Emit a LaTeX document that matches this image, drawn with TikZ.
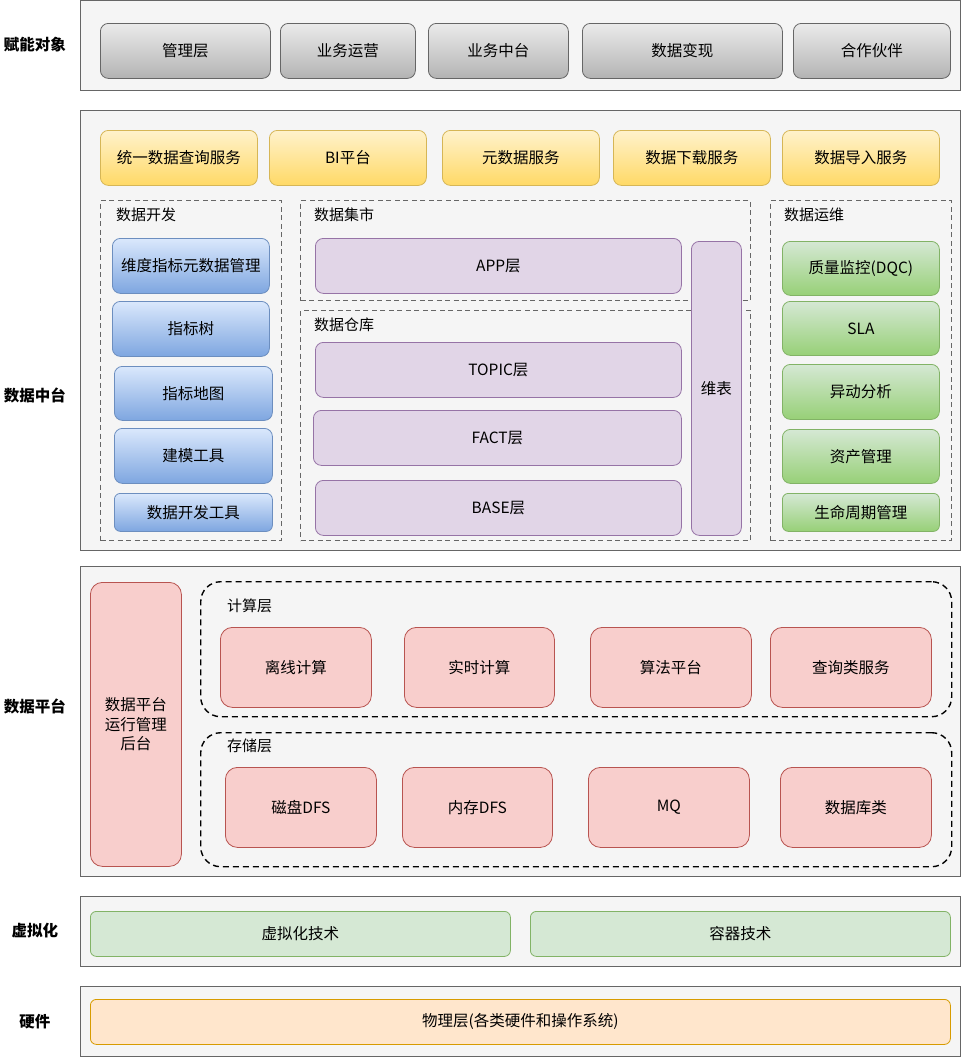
\documentclass[tikz,border=0pt]{standalone}
\usepackage{fontspec}
\setmainfont{Noto Sans CJK SC}
\definecolor{panelfill}{HTML}{F5F5F5}
\definecolor{panelline}{HTML}{666666}
\definecolor{grayTop}{HTML}{EBEBEB}
\definecolor{grayBot}{HTML}{B3B3B3}
\definecolor{yelTop}{HTML}{FFF2CC}
\definecolor{yelBot}{HTML}{FFD966}
\definecolor{yelLine}{HTML}{D6B656}
\definecolor{bluTop}{HTML}{DAE8FC}
\definecolor{bluBot}{HTML}{7EA6E0}
\definecolor{bluLine}{HTML}{6C8EBF}
\definecolor{grnTop}{HTML}{D5E8D4}
\definecolor{grnBot}{HTML}{97D077}
\definecolor{grnLine}{HTML}{82B366}
\definecolor{purFill}{HTML}{E1D5E7}
\definecolor{purLine}{HTML}{9673A6}
\definecolor{redFill}{HTML}{F8CECC}
\definecolor{redLine}{HTML}{B85450}
\definecolor{orgFill}{HTML}{FFE6CC}
\definecolor{orgLine}{HTML}{D79B00}
\begin{document}
\begin{tikzpicture}[x=1pt,y=-1pt,
  panel/.style={draw=panelline, fill=panelfill, line width=1pt, inner sep=0pt, anchor=north west},
  sidelabel/.style={font=\bfseries\fontsize{15.5}{18}\selectfont, inner sep=0pt},
  grouplabel/.style={font=\fontsize{15}{18}\selectfont, inner sep=0pt, anchor=west},
  boxbase/.style={rounded corners=8pt, inner sep=0pt, anchor=north west, line width=0.8pt, font=\fontsize{15.5}{18}\selectfont, align=center},
  graybox/.style={boxbase, draw=panelline, top color=grayTop, bottom color=grayBot},
  yelbox/.style={boxbase, draw=yelLine, top color=yelTop, bottom color=yelBot},
  blubox/.style={boxbase, draw=bluLine, top color=bluTop, bottom color=bluBot},
  grnbox/.style={boxbase, draw=grnLine, top color=grnTop, bottom color=grnBot},
  purbox/.style={boxbase, draw=purLine, fill=purFill},
  redbox/.style={boxbase, draw=redLine, fill=redFill, rounded corners=12pt},
  lgrnbox/.style={boxbase, draw=grnLine, fill=grnTop, rounded corners=6pt},
  orgbox/.style={boxbase, draw=orgLine, fill=orgFill, rounded corners=6pt},
  groupbox/.style={draw=panelline, line width=1.2pt, dash pattern=on 5pt off 3.5pt, inner sep=0pt, anchor=north west},
  layerbox/.style={draw=black, line width=1.4pt, dash pattern=on 6pt off 4pt, rounded corners=20pt, inner sep=0pt, anchor=north west}
]
\useasboundingbox (0,0) rectangle (962,1058);

% ---------- panel 1 ----------
\node[panel, minimum width=880, minimum height=90] (p1) at (80,0) {};
\node[sidelabel] (l1) at (35,45) {赋能对象};
\node[graybox, minimum width=170, minimum height=55] (g1) at (100,23) {管理层};
\node[graybox, minimum width=135, minimum height=55] (g2) at (280,23) {业务运营};
\node[graybox, minimum width=140, minimum height=55] (g3) at (428,23) {业务中台};
\node[graybox, minimum width=200, minimum height=55] (g4) at (582,23) {数据变现};
\node[graybox, minimum width=157, minimum height=55] (g5) at (793,23) {合作伙伴};

% ---------- panel 2 ----------
\node[panel, minimum width=880, minimum height=440] (p2) at (80,110) {};
\node[sidelabel] (l2) at (35,395) {数据中台};
\node[yelbox, minimum width=157, minimum height=55] (y1) at (100,130) {统一数据查询服务};
\node[yelbox, minimum width=157, minimum height=55] (y2) at (269,130) {BI平台};
\node[yelbox, minimum width=157, minimum height=55] (y3) at (442,130) {元数据服务};
\node[yelbox, minimum width=157, minimum height=55] (y4) at (613,130) {数据下载服务};
\node[yelbox, minimum width=157, minimum height=55] (y5) at (782,130) {数据导入服务};

\node[groupbox, minimum width=181, minimum height=340] (gdev) at (100,200) {};
\node[grouplabel] (tdev) at (116,215) {数据开发};
\node[groupbox, minimum width=450, minimum height=100] (gmart) at (300,200) {};
\node[grouplabel] (tmart) at (314,215) {数据集市};
\node[groupbox, minimum width=450, minimum height=230] (gwh) at (300,310) {};
\node[grouplabel] (twh) at (314,325) {数据仓库};
\node[groupbox, minimum width=181, minimum height=340] (gops) at (770,200) {};
\node[grouplabel] (tops) at (784,215) {数据运维};

\node[blubox, minimum width=157, minimum height=55] (b1) at (112,238) {维度指标元数据管理};
\node[blubox, minimum width=157, minimum height=55] (b2) at (112,301) {指标树};
\node[blubox, minimum width=158, minimum height=54] (b3) at (114,366) {指标地图};
\node[blubox, minimum width=158, minimum height=55] (b4) at (114,428) {建模工具};
\node[blubox, minimum width=158, minimum height=38, rounded corners=6pt] (b5) at (114,493) {数据开发工具};

\node[purbox, minimum width=366, minimum height=55] (a1) at (315,238) {APP层};
\node[purbox, minimum width=366, minimum height=55] (a2) at (315,342) {TOPIC层};
\node[purbox, minimum width=368, minimum height=55] (a3) at (313,410) {FACT层};
\node[purbox, minimum width=366, minimum height=55] (a4) at (315,480) {BASE层};
\node[purbox, minimum width=50, minimum height=294] (a5) at (691,241) {维表};

\node[grnbox, minimum width=157, minimum height=54] (n1) at (782,241) {质量监控(DQC)};
\node[grnbox, minimum width=157, minimum height=54] (n2) at (782,301) {SLA};
\node[grnbox, minimum width=157, minimum height=55] (n3) at (782,364) {异动分析};
\node[grnbox, minimum width=157, minimum height=54] (n4) at (782,429) {资产管理};
\node[grnbox, minimum width=157, minimum height=38, rounded corners=6pt] (n5) at (782,493) {生命周期管理};

% ---------- panel 3 ----------
\node[panel, minimum width=880, minimum height=310] (p3) at (80,566) {};
\node[sidelabel] (l3) at (35,706) {数据平台};
\node[redbox, minimum width=91, minimum height=284, font=\fontsize{15.5}{19.5}\selectfont] (r0) at (90,582) {数据平台\\运行管理\\后台};

\node[layerbox, minimum width=751, minimum height=135] (lc) at (200,581) {};
\node[grouplabel] (tlc) at (227,606) {计算层};
\node[layerbox, minimum width=751, minimum height=134] (ls) at (200,732) {};
\node[grouplabel] (tls) at (227,746) {存储层};

\node[redbox, minimum width=151, minimum height=80] (c1) at (220,627) {离线计算};
\node[redbox, minimum width=150, minimum height=80] (c2) at (404,627) {实时计算};
\node[redbox, minimum width=161, minimum height=80] (c3) at (590,627) {算法平台};
\node[redbox, minimum width=161, minimum height=80] (c4) at (770,627) {查询类服务};

\node[redbox, minimum width=151, minimum height=80] (s1) at (225,767) {磁盘DFS};
\node[redbox, minimum width=150, minimum height=80] (s2) at (402,767) {内存DFS};
\node[redbox, minimum width=161, minimum height=80] (s3) at (588,767) {MQ};
\node[redbox, minimum width=151, minimum height=80] (s4) at (780,767) {数据库类};

% ---------- panel 4 ----------
\node[panel, minimum width=880, minimum height=70] (p4) at (80,896) {};
\node[sidelabel] (l4) at (35,931) {虚拟化};
\node[lgrnbox, minimum width=420, minimum height=45] (v1) at (90,911) {虚拟化技术};
\node[lgrnbox, minimum width=420, minimum height=45] (v2) at (530,911) {容器技术};

% ---------- panel 5 ----------
\node[panel, minimum width=880, minimum height=70] (p5) at (80,986) {};
\node[sidelabel] (l5) at (35,1022) {硬件};
\node[orgbox, minimum width=860, minimum height=45] (h1) at (90,999) {物理层(各类硬件和操作系统)};
\end{tikzpicture}
\end{document}
